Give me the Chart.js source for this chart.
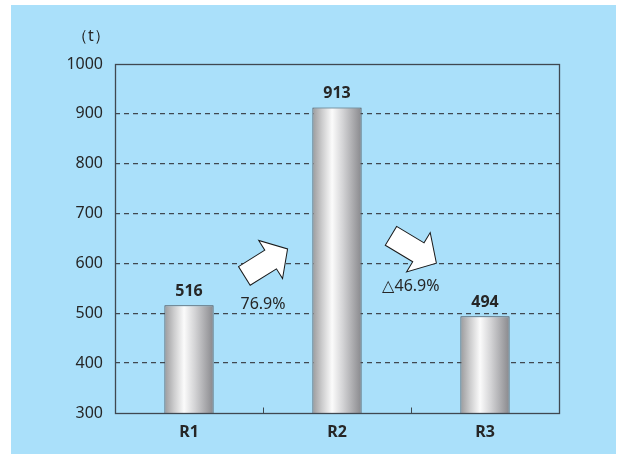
<!DOCTYPE html>
<html><head><meta charset="utf-8">
<script src="https://cdn.jsdelivr.net/npm/chart.js@4.4.1/dist/chart.umd.min.js"></script>
<style>html,body{margin:0;padding:0;background:#fff;}canvas{display:block;}</style>
</head><body>
<canvas id="c" width="617" height="454"></canvas>
<script>
const categories = ['R1', 'R2', 'R3'];
const values = [516, 913, 494];
const yMin = 300, yMax = 1000, yStep = 100;
const changeLabels = ['76.9%', '△46.9%'];
const unitLabel = '（t）';

const FONT = "'Noto Sans', 'Open Sans', sans-serif";
const TEXT = '#262626';
const AXIS = '#3f4850';
const BAR_PCT = 0.333;

function barGradient(ctx) {
  const chart = ctx.chart;
  const xs = chart.scales && chart.scales.x;
  if (!xs || !chart.chartArea || ctx.dataIndex === undefined) return '#c8c8c8';
  const cx = xs.getPixelForValue(ctx.dataIndex);
  const w = (xs.width / categories.length) * BAR_PCT;
  const g = chart.ctx.createLinearGradient(cx - w / 2, 0, cx + w / 2, 0);
  g.addColorStop(0, '#9a9a9c');
  g.addColorStop(0.2, '#cdcdce');
  g.addColorStop(0.4, '#fbfbfb');
  g.addColorStop(0.62, '#d3d3d5');
  g.addColorStop(1, '#88888c');
  return g;
}

const deco = {
  id: 'deco',
  beforeDraw(chart) {
    const c = chart.ctx;
    c.save();
    c.fillStyle = '#ffffff';
    c.fillRect(0, 0, chart.width, chart.height);
    c.fillStyle = '#aae0fa';
    c.fillRect(11, 5, chart.width - 12, chart.height - 5);
    c.restore();
  },
  afterDatasetsDraw(chart, args, opts) {
    const c = chart.ctx, a = chart.chartArea, x = chart.scales.x, y = chart.scales.y;
    c.save();
    c.strokeStyle = AXIS;
    c.lineWidth = 1.3;
    const L = Math.round(a.left) + 0.5, T = Math.round(a.top) + 0.5;
    const R = Math.round(a.right) + 0.5, B = Math.round(a.bottom) + 0.5;
    c.strokeRect(L, T, R - L, B - T);
    c.lineWidth = 1;
    for (let i = 0; i < categories.length - 1; i++) {
      const bx = Math.round((x.getPixelForValue(i) + x.getPixelForValue(i + 1)) / 2) + 0.5;
      c.beginPath(); c.moveTo(bx, B); c.lineTo(bx, B - 6); c.stroke();
    }
    const meta = chart.getDatasetMeta(0);
    c.fillStyle = TEXT;
    c.font = "bold 16px " + FONT;
    c.textAlign = 'center';
    c.textBaseline = 'alphabetic';
    meta.data.forEach((el, i) => c.fillText(String(values[i]), el.x, el.y - 9));
    (opts.arrows || []).forEach(ar => {
      const px = x.getPixelForValue(ar.x), py = y.getPixelForValue(ar.y);
      const Lh = ar.len / 2, s = ar.shaft / 2, h = ar.head / 2, hl = ar.headLen;
      c.save();
      c.translate(px, py);
      c.rotate(ar.angle * Math.PI / 180);
      c.beginPath();
      c.moveTo(-Lh, -s);
      c.lineTo(Lh - hl, -s);
      c.lineTo(Lh - hl, -h);
      c.lineTo(Lh, 0);
      c.lineTo(Lh - hl, h);
      c.lineTo(Lh - hl, s);
      c.lineTo(-Lh, s);
      c.closePath();
      c.fillStyle = '#ffffff';
      c.fill();
      c.strokeStyle = '#1a1a1a';
      c.lineWidth = 1;
      c.lineJoin = 'miter';
      c.stroke();
      c.restore();
    });
    c.font = "16px " + FONT;
    c.fillStyle = TEXT;
    (opts.notes || []).forEach((n, i) => {
      c.fillText(changeLabels[i], x.getPixelForValue(n.x), y.getPixelForValue(n.y));
    });
    c.textBaseline = 'middle';
    c.fillText(unitLabel, a.left - 24, a.top - 28);
    c.restore();
  }
};

new Chart(document.getElementById('c'), {
  type: 'bar',
  data: {
    labels: categories,
    datasets: [{
      data: values,
      backgroundColor: barGradient,
      borderColor: '#4a4a4e',
      borderWidth: 1,
      borderSkipped: 'bottom',
      barPercentage: BAR_PCT,
      categoryPercentage: 1
    }]
  },
  options: {
    responsive: false,
    animation: false,
    devicePixelRatio: 1,
    layout: { padding: { left: 11, right: 58, top: 64, bottom: 0 } },
    plugins: {
      legend: { display: false },
      tooltip: { enabled: false },
      deco: {
        arrows: [
          { x: 0.52, y: 602, angle: -32, len: 51, shaft: 22, head: 45, headLen: 20 },
          { x: 1.518, y: 628, angle: 31, len: 53, shaft: 22, head: 46, headLen: 21 }
        ],
        notes: [ { x: 0.5, y: 508 }, { x: 1.5, y: 545 } ]
      }
    },
    scales: {
      x: {
        grid: { display: false },
        border: { display: false },
        ticks: { color: TEXT, font: { family: FONT, size: 16, weight: 'bold' }, padding: 2 },
        afterFit(s) { s.height = 41; }
      },
      y: {
        min: yMin, max: yMax,
        ticks: { stepSize: yStep, color: TEXT, font: { family: FONT, size: 16 }, padding: 12,
                 callback: (v) => String(v) },
        grid: {
          drawTicks: false,
          lineWidth: 1.3,
          color: (ctx) => (ctx.tick && (ctx.tick.value === yMin || ctx.tick.value === yMax)) ? 'rgba(0,0,0,0)' : '#404850'
        },
        border: { display: false, dash: [5, 4] },
        afterFit(s) { s.width = 104; }
      }
    }
  },
  plugins: [deco]
});
</script>
</body></html>
